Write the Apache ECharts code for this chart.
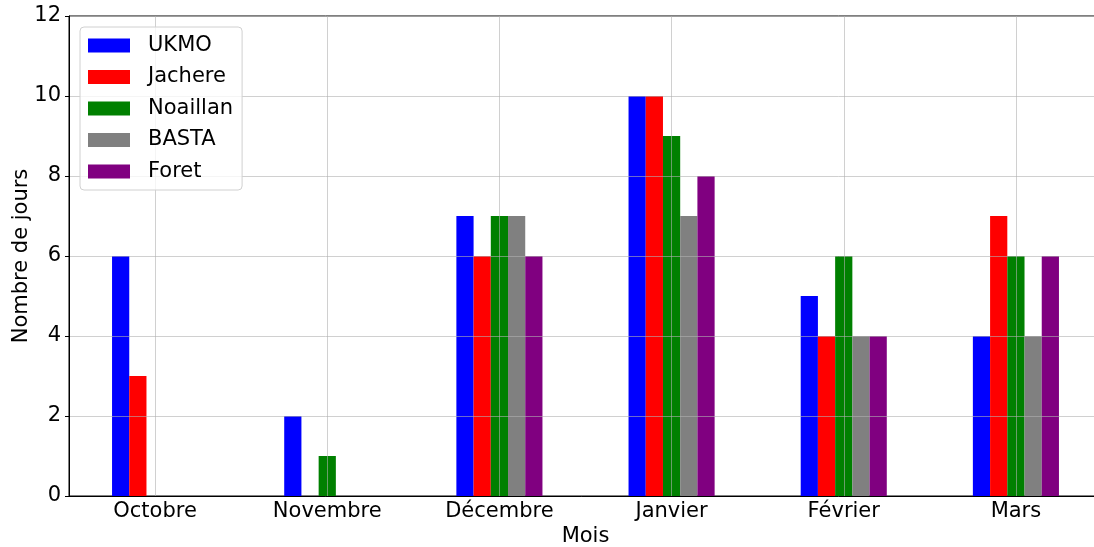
<!DOCTYPE html>
<html>
<head>
<meta charset="utf-8">
<script src="https://cdn.jsdelivr.net/npm/echarts@6/dist/echarts.min.js"></script>
<style>
  html, body { margin: 0; padding: 0; background: #fff; overflow: hidden; }
  #chart { width: 1094px; height: 547px; }
</style>
</head>
<body>
<div id="chart"></div>
<script>
  // mois (axe x)
  const months = ['Octobre', 'Novembre', 'Décembre', 'Janvier', 'Février', 'Mars'];
  // nombre de jours par site
  const ukmo = [6, 2, 7, 10, 5, 4];
  const jachere = [3, 0, 6, 10, 4, 7];
  const noaillan = [0, 1, 7, 9, 6, 6];
  const basta = [0, 0, 7, 7, 4, 4];
  const foret = [0, 0, 6, 8, 4, 6];
  const yTicks = [0, 2, 4, 6, 8, 10, 12];

  const font = 'DejaVu Sans';
  const fs = 21;
  const gridLine = { show: true, lineStyle: { color: 'rgba(176,176,176,0.6)', width: 1 } };

  // demi-pas pour placer la grille verticale au centre des mois
  const halfSteps = [];
  for (let i = 0; i <= months.length * 2; i++) halfSteps.push(String(i));

  function bar(name, data, color) {
    return {
      name: name,
      type: 'bar',
      data: data,
      barWidth: '10%',
      barGap: '0%',
      itemStyle: { color: color },
      emphasis: { disabled: true }
    };
  }

  const myChart = echarts.init(document.getElementById('chart'));
  myChart.setOption({
    animation: false,
    textStyle: { fontFamily: font },
    grid: {
      // le cadre droit est coupé dans l'image d'origine
      left: 69, right: -8, top: 16, bottom: 51,
      outerBoundsMode: 'none',
      show: true, borderColor: '#000', borderWidth: 1
    },
    legend: {
      orient: 'vertical',
      left: 80, top: 27,
      padding: [8, 9, 8, 8],
      itemWidth: 42, itemHeight: 14, itemGap: 10.5,
      backgroundColor: 'rgba(255,255,255,0.8)',
      borderColor: '#d0d0d0', borderWidth: 1, borderRadius: 4,
      icon: 'rect',
      textStyle: { fontSize: fs, color: '#000', fontFamily: font, lineHeight: 20, padding: [0, 0, 0, 13] },
      data: ['UKMO', 'Jachere', 'Noaillan', 'BASTA', 'Foret']
    },
    xAxis: [{
      type: 'category',
      data: months,
      z: 3,
      name: 'Mois',
      nameLocation: 'middle',
      nameGap: 30,
      nameMoveOverlap: false,
      nameTextStyle: { fontSize: fs, color: '#000', fontFamily: font },
      axisLine: { lineStyle: { color: '#000' } },
      axisTick: { alignWithLabel: true, length: 4, lineStyle: { color: '#000' } },
      axisLabel: { fontSize: fs, color: '#000', margin: 5, fontFamily: font },
      splitLine: { show: false }
    }, {
      type: 'category',
      data: halfSteps,
      boundaryGap: false,
      position: 'bottom',
      z: 3,
      axisLine: { show: false },
      axisTick: { show: false },
      axisLabel: { show: false },
      splitLine: {
        show: true,
        interval: function (i) { return i % 2 === 1; },
        lineStyle: gridLine.lineStyle
      }
    }],
    yAxis: {
      type: 'value',
      min: yTicks[0], max: yTicks[yTicks.length - 1], interval: 2,
      z: 3,
      name: 'Nombre de jours',
      nameLocation: 'middle',
      nameGap: 37,
      nameMoveOverlap: false,
      nameTextStyle: { fontSize: fs, color: '#000', fontFamily: font },
      axisLine: { show: true, lineStyle: { color: '#000' } },
      axisTick: { show: true, length: 4, lineStyle: { color: '#000' } },
      axisLabel: { fontSize: fs, color: '#000', margin: 8, fontFamily: font },
      splitLine: gridLine
    },
    series: [
      bar('UKMO', ukmo, '#0000ff'),
      bar('Jachere', jachere, '#ff0000'),
      bar('Noaillan', noaillan, '#008000'),
      bar('BASTA', basta, '#808080'),
      bar('Foret', foret, '#800080')
    ]
  });
</script>
</body>
</html>
